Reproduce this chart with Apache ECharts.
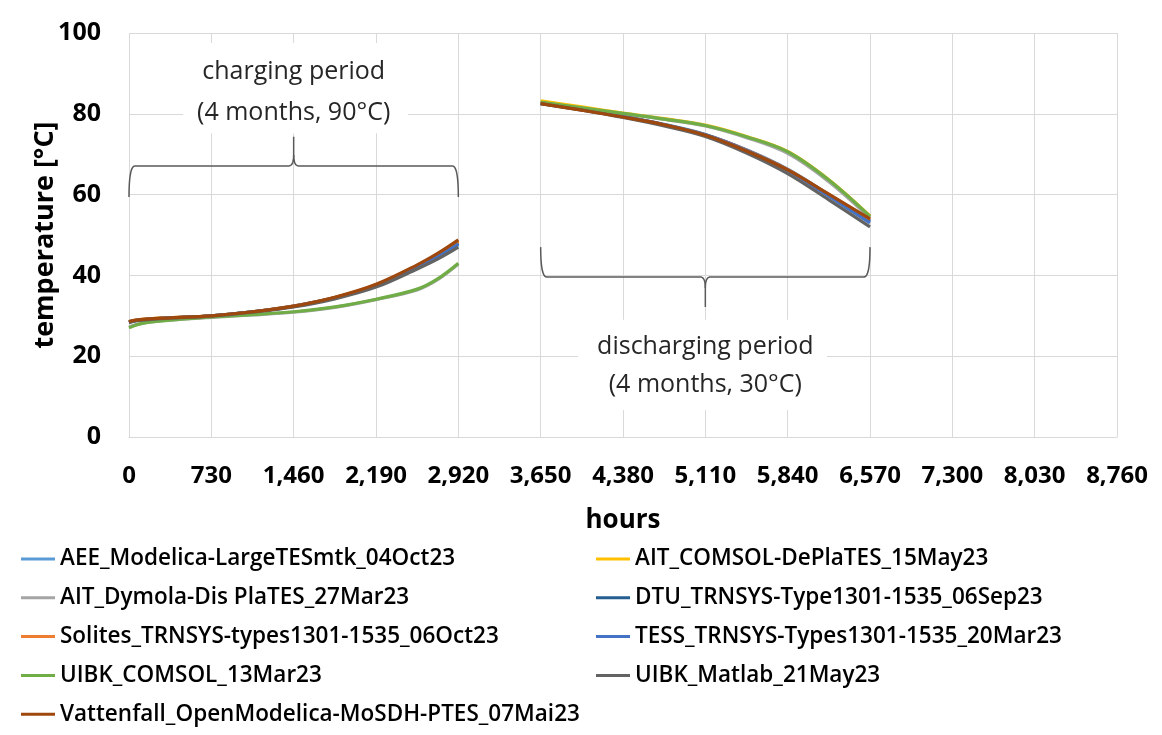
<!DOCTYPE html>
<html>
<head>
<meta charset="utf-8">
<script src="https://cdn.jsdelivr.net/npm/echarts@6/dist/echarts.min.js"></script>
<style>
html,body{margin:0;padding:0;background:#fff;}
#chart{width:1162px;height:735px;}
</style>
</head>
<body>
<div id="chart"></div>
<script>
// ---------------- DATA ----------------
const hoursCharge = [0, 50, 150, 365, 730, 1095, 1460, 1825, 2190, 2555, 2740, 2920];
const hoursDischarge = [3650, 4015, 4380, 4745, 5110, 5475, 5840, 6205, 6570];
const xTicks = [0, 730, 1460, 2190, 2920, 3650, 4380, 5110, 5840, 6570, 7300, 8030, 8760];
const yTicks = [0, 20, 40, 60, 80, 100];

const seriesNames = [
  "AEE_Modelica-LargeTESmtk_04Oct23",
  "AIT_COMSOL-DePlaTES_15May23",
  "AIT_Dymola-Dis PlaTES_27Mar23",
  "DTU_TRNSYS-Type1301-1535_06Sep23",
  "Solites_TRNSYS-types1301-1535_06Oct23",
  "TESS_TRNSYS-Types1301-1535_20Mar23",
  "UIBK_COMSOL_13Mar23",
  "UIBK_Matlab_21May23",
  "Vattenfall_OpenModelica-MoSDH-PTES_07Mai23"
];

const aeeCharge        = [28.4, 28.8, 29.1, 29.5, 30.0, 31.0, 32.3, 34.4, 37.4, 42.0, 44.6, 47.6];
const aeeDischarge     = [82.7, 81.1, 79.4, 77.4, 74.9, 71.1, 66.3, 60.0, 53.5];
const aitComsolCharge    = [28.5, 28.9, 29.2, 29.5, 30.0, 31.0, 32.4, 34.5, 37.6, 42.3, 45.0, 48.2];
const aitComsolDischarge = [83.2, 81.7, 80.2, 78.8, 77.2, 74.4, 70.7, 63.7, 54.7];
const aitDymolaCharge    = [27.2, 27.7, 28.3, 28.9, 29.6, 30.2, 30.9, 32.1, 34.0, 36.4, 39.0, 42.8];
const aitDymolaDischarge = [82.8, 81.4, 80.0, 78.6, 77.0, 74.1, 70.2, 63.2, 54.2];
const dtuCharge        = [28.4, 28.8, 29.1, 29.5, 30.0, 31.0, 32.3, 34.4, 37.5, 42.1, 44.8, 48.0];
const dtuDischarge     = [82.6, 81.0, 79.3, 77.3, 74.8, 71.0, 66.2, 59.9, 53.4];
const solitesCharge    = [28.5, 28.9, 29.2, 29.5, 30.0, 31.0, 32.4, 34.5, 37.6, 42.3, 45.1, 48.4];
const solitesDischarge = [82.6, 81.0, 79.3, 77.3, 74.8, 71.0, 66.2, 60.0, 53.8];
const tessCharge       = [28.5, 28.8, 29.1, 29.5, 30.0, 31.0, 32.4, 34.5, 37.5, 42.1, 44.7, 47.8];
const tessDischarge    = [82.6, 81.0, 79.3, 77.3, 74.8, 70.9, 66.0, 59.6, 53.0];
const uibkComsolCharge    = [27.0, 27.6, 28.3, 28.9, 29.7, 30.3, 31.0, 32.2, 34.1, 36.6, 39.2, 43.0];
const uibkComsolDischarge = [82.9, 81.5, 80.1, 78.7, 77.1, 74.3, 70.6, 63.6, 54.6];
const uibkMatlabCharge    = [28.3, 28.7, 29.0, 29.4, 29.9, 30.9, 32.2, 34.2, 37.1, 41.6, 44.1, 47.0];
const uibkMatlabDischarge = [82.5, 80.9, 79.1, 77.0, 74.4, 70.3, 65.2, 58.7, 52.0];
const vattenfallCharge    = [28.6, 28.9, 29.2, 29.5, 30.0, 31.0, 32.4, 34.6, 37.8, 42.6, 45.5, 48.8];
const vattenfallDischarge = [82.5, 80.9, 79.2, 77.3, 74.7, 70.8, 66.1, 60.1, 54.0];

const chargeValues = [aeeCharge, aitComsolCharge, aitDymolaCharge, dtuCharge, solitesCharge, tessCharge, uibkComsolCharge, uibkMatlabCharge, vattenfallCharge];
const dischargeValues = [aeeDischarge, aitComsolDischarge, aitDymolaDischarge, dtuDischarge, solitesDischarge, tessDischarge, uibkComsolDischarge, uibkMatlabDischarge, vattenfallDischarge];

// ---------------- STYLE ----------------
const colors = ["#5B9BD5", "#FFC000", "#A5A5A5", "#255E91", "#ED7D31", "#4472C4", "#70AD47", "#636363", "#9E480E"];
const FONT = "'Open Sans', 'Noto Sans', sans-serif";
const gridColor = "#D9D9D9";

function buildData(i) {
  const d = chargeValues[i].map((t, k) => [hoursCharge[k], t]);
  d.push([3285, '-']);
  dischargeValues[i].forEach((t, k) => d.push([hoursDischarge[k], t]));
  return d;
}

const series = seriesNames.map((name, i) => ({
  name: name,
  type: 'line',
  data: buildData(i),
  smooth: 0.35,
  symbol: 'none',
  connectNulls: false,
  lineStyle: { color: colors[i], width: 3.2 },
  itemStyle: { color: colors[i] },
  emphasis: { disabled: true },
  z: 2 + i
}));

const legendText = { fontFamily: FONT, fontSize: 22.5, fontWeight: 600, color: '#000', lineHeight: 26 };
const legendCommon = {
  orient: 'vertical', icon: 'rect', itemWidth: 34, itemHeight: 3, itemGap: 12.8,
  textStyle: legendText, selectedMode: false, padding: 0
};

const chart = echarts.init(document.getElementById('chart'), null, { renderer: 'canvas' });
chart.setOption({
  animation: false,
  backgroundColor: '#fff',
  grid: { left: 129, right: 45, top: 33, bottom: 298, containLabel: false },
  xAxis: {
    type: 'value', min: 0, max: 8760, interval: 730,
    name: 'hours', nameLocation: 'middle', nameGap: 71,
    nameTextStyle: { fontFamily: FONT, fontSize: 26, fontWeight: 'bold', color: '#000' },
    axisLine: { show: true, lineStyle: { color: gridColor, width: 1 } },
    axisTick: { show: false },
    splitLine: { show: true, lineStyle: { color: gridColor, width: 1 } },
    axisLabel: {
      margin: 27, fontFamily: FONT, fontSize: 24, fontWeight: 'bold', color: '#000',
      formatter: v => xTicks.includes(v) ? v.toLocaleString('en-US') : ''
    }
  },
  yAxis: {
    type: 'value', min: 0, max: 100, interval: 20,
    name: 'temperature [°C]', nameLocation: 'middle', nameGap: 70, nameMoveOverlap: false,
    nameTextStyle: { fontFamily: FONT, fontSize: 27, fontWeight: 'bold', color: '#000' },
    axisLine: { show: false },
    axisTick: { show: false },
    splitLine: { show: true, lineStyle: { color: gridColor, width: 1 } },
    axisLabel: {
      margin: 28, fontFamily: FONT, fontSize: 25, fontWeight: 'bold', color: '#000',
      formatter: v => yTicks.includes(v) ? String(v) : ''
    }
  },
  legend: [
    Object.assign({}, legendCommon, { left: 21, top: 546, data: [seriesNames[0], seriesNames[2], seriesNames[4], seriesNames[6], seriesNames[8]] }),
    Object.assign({}, legendCommon, { left: 596, top: 546, data: [seriesNames[1], seriesNames[3], seriesNames[5], seriesNames[7]] })
  ],
  series: series
});

// ---------------- ANNOTATIONS (anchored in data units) ----------------
function px(h, t) { return chart.convertToPixel({ gridIndex: 0 }, [h, t]); }

function quad(pts, p0, c, p1) {
  const n = 12;
  for (let i = 1; i <= n; i++) {
    const u = i / n, a = (1 - u) * (1 - u), b = 2 * u * (1 - u), d = u * u;
    pts.push([a * p0[0] + b * c[0] + d * p1[0], a * p0[1] + b * c[1] + d * p1[1]]);
  }
}

function braceParts(h0, h1, tEnd, tLine, tSpike) {
  const a = px(h0, tEnd), b = px(h1, tEnd);
  const yE = a[1], yH = px(h0, tLine)[1], yS = px(h0, tSpike)[1];
  const x0 = a[0], x1 = b[0], xc = (x0 + x1) / 2;
  const r = 6, s = 5, v = 11;
  const dir = yS < yH ? -1 : 1;
  const left = [[x0, yE]];
  quad(left, [x0, yE], [x0, yH], [x0 + r, yH]);
  left.push([xc - s, yH]);
  quad(left, [xc - s, yH], [xc, yH], [xc, yH + dir * v]);
  left.push([xc, yS]);
  const right = [[x1, yE]];
  quad(right, [x1, yE], [x1, yH], [x1 - r, yH]);
  right.push([xc + s, yH]);
  quad(right, [xc + s, yH], [xc, yH], [xc, yH + dir * v]);
  const style = { stroke: '#595959', lineWidth: 1.5, fill: null };
  return [
    { type: 'polyline', z: 40, silent: true, shape: { points: left }, style: style },
    { type: 'polyline', z: 40, silent: true, shape: { points: right }, style: style }
  ];
}

function box(h0, h1, t0, t1) {
  const p = px(h0, t1), q = px(h1, t0);
  return { type: 'rect', z: 30, silent: true, shape: { x: p[0], y: p[1], width: q[0] - p[0], height: q[1] - p[1] }, style: { fill: '#fff' } };
}
function label(h, t, txt) {
  const p = px(h, t);
  return { type: 'text', z: 60, silent: true, x: p[0], y: p[1],
    style: { text: txt, fontFamily: FONT, fontSize: 25, fill: '#262626', align: 'center', verticalAlign: 'middle' } };
}

chart.setOption({
  graphic: [].concat(
    [box(479, 2474, 75.2, 97.5), box(3981, 6189, 6.7, 29.0)],
    braceParts(0, 2920, 59.4, 67.1, 74.3),
    braceParts(3650, 6570, 47.0, 39.6, 32.2),
    [
      label(1460, 90.3, 'charging period'),
      label(1460, 80.2, '(4 months, 90°C)'),
      label(5110, 22.3, 'discharging period'),
      label(5110, 12.9, '(4 months, 30°C)')
    ]
  )
});
</script>
</body>
</html>
